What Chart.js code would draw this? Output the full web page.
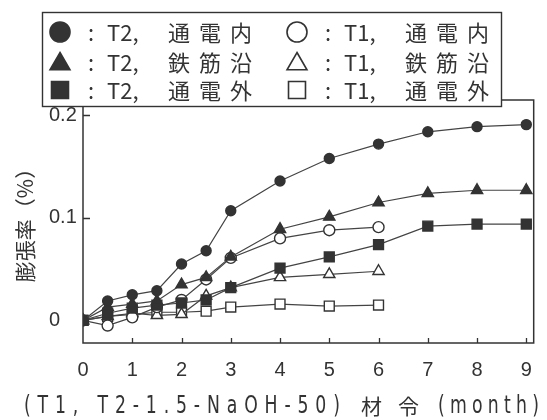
<!DOCTYPE html>
<html>
<head>
<meta charset="utf-8">
<script src="https://cdn.jsdelivr.net/npm/chart.js@4.4.1/dist/chart.umd.min.js"></script>
<style>
  html, body { margin: 0; padding: 0; background: #fff; }
  #wrap { width: 547px; height: 420px; }
</style>
</head>
<body>
<div id="wrap"><canvas id="c" width="547" height="420"></canvas></div>
<script>
// Age in months
const months = [0, 0.5, 1, 1.5, 2, 2.5, 3, 4, 5, 6, 7, 8, 9];

// Expansion (%) for specimens T2 (to 9 months) and T1 (to 6 months)
const t2Inner = [0, 0.019, 0.025, 0.029, 0.055, 0.068, 0.107, 0.136, 0.158, 0.172, 0.184, 0.189, 0.191];
const t2Rebar = [0, 0.013, 0.016, 0.019, 0.035, 0.042, 0.062, 0.089, 0.101, 0.115, 0.124, 0.127, 0.127];
const t2Outer = [0, 0.007, 0.012, 0.015, 0.017, 0.020, 0.032, 0.051, 0.062, 0.074, 0.092, 0.094, 0.094];
const t1Inner = [0, -0.005, 0.003, 0.013, 0.020, 0.040, 0.061, 0.080, 0.088, 0.091];
const t1Rebar = [0, 0.004, 0.007, 0.005, 0.006, 0.024, 0.032, 0.042, 0.045, 0.048];
const t1Outer = [0, 0.004, 0.006, 0.008, 0.008, 0.009, 0.013, 0.016, 0.014, 0.015];

// Legend wording
const specimenCodes = ['T2', 'T2', 'T2', 'T1', 'T1', 'T1'];
const zoneNames = ['通電内', '鉄筋沿', '通電外', '通電内', '鉄筋沿', '通電外'];

// Axis text
const yTickLabels = { '0': '0', '0.1': '0.1', '0.2': '0.2' };
const xTickLabels = ['0', '1', '2', '3', '4', '5', '6', '7', '8', '9'];
const yTitle = '膨張率（%）';
const xTitleParts = ['(T1, T2-1.5-NaOH-50)', '材令', '(month)'];

const INK = '#333';
const LINE = '#444';

function pts(values) {
  return values.map((v, i) => ({ x: months[i], y: v }));
}

function series(label, values, shape, filled, radius) {
  return {
    label,
    data: pts(values),
    showLine: true,
    borderColor: LINE,
    borderWidth: 1.2,
    pointStyle: shape,
    pointRadius: radius,
    pointBackgroundColor: filled ? INK : '#fff',
    pointBorderColor: INK,
    pointBorderWidth: 1.4,
    fill: false,
    tension: 0
  };
}

const datasets = [
  series('T2 通電内', t2Inner, 'circle', true, 5),
  series('T2 鉄筋沿', t2Rebar, 'triangle', true, 6.5),
  series('T2 通電外', t2Outer, 'rect', true, 7),
  series('T1 通電内', t1Inner, 'circle', false, 5.5),
  series('T1 鉄筋沿', t1Rebar, 'triangle', false, 6.5),
  series('T1 通電外', t1Outer, 'rect', false, 7)
];

// Plot frame with inward tick marks
const framePlugin = {
  id: 'frame',
  beforeDatasetsDraw(chart) {
    const { ctx, chartArea: a, scales: { x, y } } = chart;
    ctx.save();
    ctx.strokeStyle = INK;
    ctx.lineWidth = 1.5;
    ctx.strokeRect(a.left, a.top, a.right - a.left, a.bottom - a.top);
    ctx.lineWidth = 1.3;
    ctx.beginPath();
    x.ticks.forEach(t => {
      if (t.value <= 0) return;
      const px = Math.round(x.getPixelForValue(t.value)) + 0.5;
      ctx.moveTo(px, a.bottom);
      ctx.lineTo(px, a.bottom - 5);
    });
    y.ticks.forEach(t => {
      if (t.value <= 0) return;
      const py = Math.round(y.getPixelForValue(t.value)) + 0.5;
      ctx.moveTo(a.left, py);
      ctx.lineTo(a.left + 7, py);
    });
    ctx.stroke();
    ctx.restore();
  }
};

// Writes text spread evenly between x0 and x1; sx narrows the glyphs
function fitText(ctx, text, x0, x1, yc, sx = 1) {
  ctx.save();
  ctx.translate(x0, yc);
  ctx.scale(sx, 1);
  ctx.letterSpacing = '0px';
  const w = ctx.measureText(text).width;
  const n = [...text].length;
  const span = (x1 - x0) / sx;
  const sp = n > 1 ? (span - w) / (n - 1) : 0;
  ctx.letterSpacing = sp.toFixed(2) + 'px';
  ctx.fillText(text, 0, 0);
  ctx.restore();
}

// Axis titles and the boxed legend
const annotatePlugin = {
  id: 'annotate',
  afterDraw(chart) {
    const { ctx } = chart;
    ctx.save();
    ctx.fillStyle = INK;
    ctx.textBaseline = 'middle';

    // y title, reading bottom to top
    ctx.save();
    ctx.translate(25, 220);
    ctx.rotate(-Math.PI / 2);
    ctx.textAlign = 'center';
    ctx.font = '21px "Noto Sans CJK JP"';
    ctx.fillText(yTitle, 0, 0);
    ctx.restore();

    // x title
    ctx.textAlign = 'left';
    ctx.font = '24px "DejaVu Sans"';
    fitText(ctx, xTitleParts[0], 24, 340, 407, 0.72);
    ctx.font = '21px "Noto Sans CJK JP"';
    fitText(ctx, xTitleParts[1], 361, 419, 406);
    ctx.font = '24px "DejaVu Sans"';
    fitText(ctx, xTitleParts[2], 438, 539, 407, 0.72);

    // legend box
    ctx.fillStyle = '#fff';
    ctx.fillRect(42, 12, 460, 95);
    ctx.strokeStyle = INK;
    ctx.lineWidth = 1.4;
    ctx.strokeRect(42.5, 12.5, 459, 94);

    const colX = [60, 297];
    const rowY = [32, 62, 90];
    const legendRadius = { circle: 10, triangle: 11.5, rect: 12 };
    chart.data.datasets.forEach((ds, i) => {
      const col = i < 3 ? 0 : 1;
      const row = i % 3;
      const mx = colX[col];
      const my = rowY[row] + (ds.pointStyle === 'triangle' ? 2 : 0);
      ctx.fillStyle = ds.pointBackgroundColor;
      ctx.strokeStyle = ds.pointBorderColor;
      ctx.lineWidth = 1.6;
      Chart.helpers.drawPoint(ctx, {
        pointStyle: ds.pointStyle,
        radius: legendRadius[ds.pointStyle],
        rotation: 0,
        borderWidth: 1.6
      }, mx, my);

      ctx.fillStyle = INK;
      ctx.textAlign = 'left';
      ctx.font = '22px "Noto Sans CJK JP"';
      const ty = rowY[row] + 1;
      ctx.fillText(':', mx + 28, ty);
      ctx.fillText(specimenCodes[i] + ',', mx + 47, ty);
      fitText(ctx, zoneNames[i], mx + 108, mx + 192, ty);
    });
    ctx.restore();
  }
};

new Chart(document.getElementById('c'), {
  type: 'scatter',
  data: { datasets },
  options: {
    responsive: false,
    animation: false,
    devicePixelRatio: 1,
    layout: { padding: { top: 100, right: 2, left: 49, bottom: 0 } },
    plugins: { legend: { display: false }, tooltip: { enabled: false } },
    scales: {
      x: {
        type: 'linear',
        min: 0,
        max: 9.15,
        border: { display: false },
        grid: { display: false, drawTicks: false },
        ticks: {
          stepSize: 1,
          includeBounds: false,
          autoSkip: false,
          maxRotation: 0,
          padding: 15,
          color: INK,
          font: { family: '"Liberation Sans"', size: 20 },
          callback: v => xTickLabels[v] ?? ''
        },
        afterFit(s) { s.height = 77; }
      },
      y: {
        type: 'linear',
        min: -0.022,
        max: 0.215,
        border: { display: false },
        grid: { display: false, drawTicks: false },
        ticks: {
          stepSize: 0.1,
          includeBounds: false,
          crossAlign: 'far',
          color: INK,
          font: { family: '"Liberation Sans"', size: 20 },
          callback: v => yTickLabels[String(Math.round(v * 10) / 10)] ?? ''
        },
        afterFit(s) { s.width = 34; }
      }
    }
  },
  plugins: [framePlugin, annotatePlugin]
});
</script>
</body>
</html>
